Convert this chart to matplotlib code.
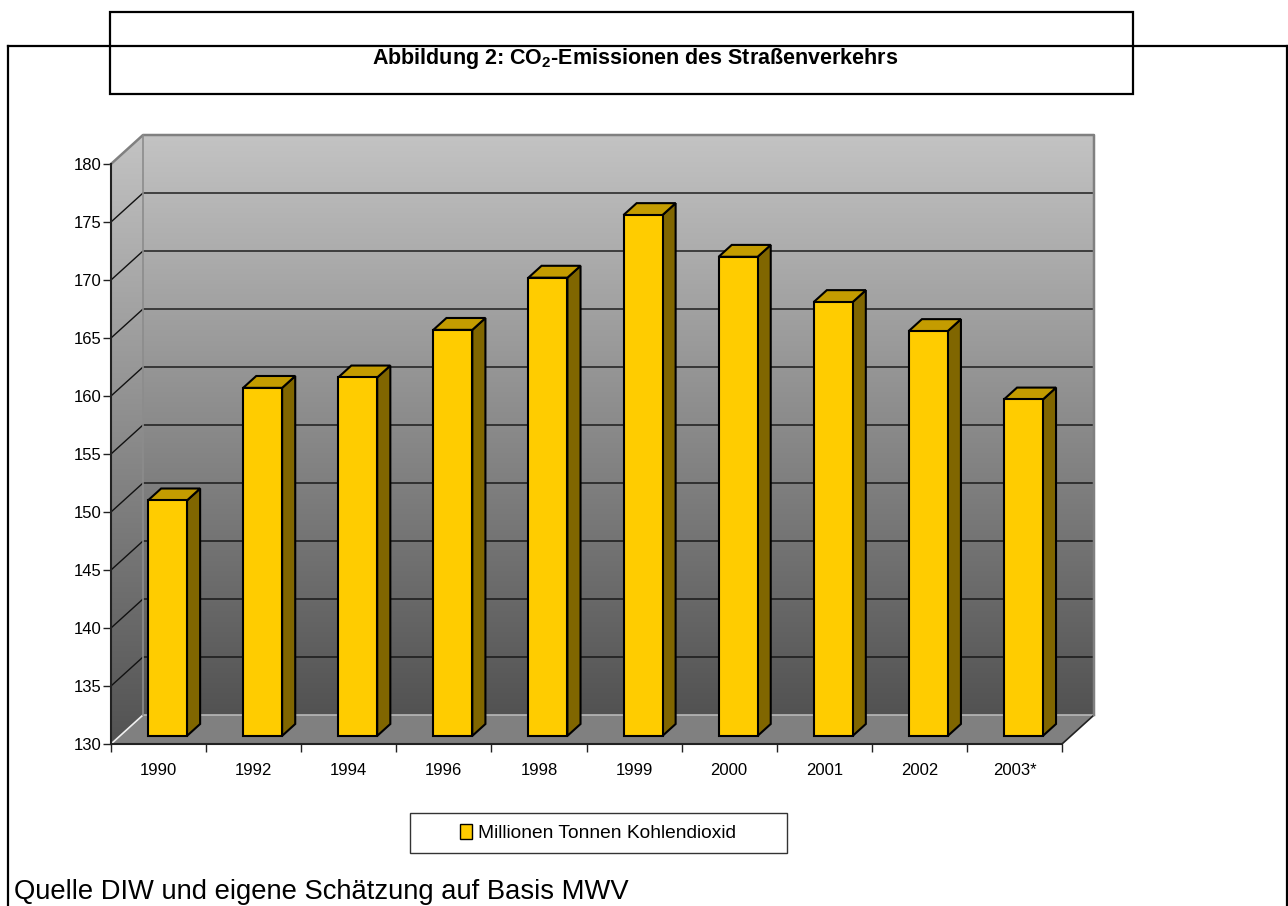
import numpy as np
import matplotlib
matplotlib.use('Agg')
import matplotlib.pyplot as plt
from matplotlib.patches import Polygon, Rectangle
from matplotlib.lines import Line2D
from matplotlib.colors import LinearSegmentedColormap

# Daten
years = ['1990', '1992', '1994', '1996', '1998', '1999', '2000', '2001', '2002', '2003*']
co2 = [150.3, 160.0, 160.9, 165.0, 169.5, 174.9, 171.3, 167.4, 164.9, 159.0]
y_ticks = [130, 135, 140, 145, 150, 155, 160, 165, 170, 175, 180]
title = r'Abbildung 2: CO$_\mathbf{2}$-Emissionen des Straßenverkehrs'
legend_label = 'Millionen Tonnen Kohlendioxid'
source_note = 'Quelle DIW und eigene Schätzung auf Basis MWV'

plt.rcParams['font.family'] = ['Liberation Sans', 'DejaVu Sans']
plt.rcParams['mathtext.fontset'] = 'custom'
plt.rcParams['mathtext.rm'] = 'Liberation Sans'
plt.rcParams['mathtext.bf'] = 'Liberation Sans:bold'

W, H = 1288, 906
fig = plt.figure(figsize=(W / 100, H / 100), dpi=100)


def fx(px):
    return px / W


def fy(py):
    return 1 - py / H


# Achsenbereich (Vorderkante + Tiefe)
n = len(years)
ymin, ymax = y_ticks[0], y_ticks[-1]
ax = fig.add_axes([fx(111), fy(744), fx(1094 - 111), (744 - 135) / H])
px_cat = (1062 - 111) / n
px_unit = (744 - 164) / (ymax - ymin)
DX = 32 / px_cat
DY = 29 / px_unit
ax.set_xlim(0, n + DX)
ax.set_ylim(ymin, ymax + DY)
ax.patch.set_alpha(0)
for s in ax.spines.values():
    s.set_visible(False)

# Wände mit Verlauf
wall_cmap = LinearSegmentedColormap.from_list('wall', ['#525252', '#c3c3c3'])
grad = np.linspace(0, 1, 256).reshape(-1, 1)
ax.imshow(grad, extent=[DX, n + DX, ymin + DY, ymax + DY], origin='lower',
          cmap=wall_cmap, aspect='auto', zorder=0)
side = Polygon([(0, ymin), (DX, ymin + DY), (DX, ymax + DY), (0, ymax)],
               closed=True, facecolor='none', edgecolor='none')
ax.add_patch(side)
im = ax.imshow(grad, extent=[0, DX, ymin, ymax + DY], origin='lower',
               cmap=wall_cmap, aspect='auto', zorder=0)
im.set_clip_path(side)

# Boden
floor = Polygon([(0, ymin), (n, ymin), (n + DX, ymin + DY), (DX, ymin + DY)],
                closed=True, facecolor='#808080', edgecolor='none', zorder=1)
ax.add_patch(floor)
ax.plot([0, DX], [ymin, ymin + DY], color='#f0f0f0', lw=1.2, zorder=2, clip_on=False)
ax.plot([DX, n + DX], [ymin + DY, ymin + DY], color='#b8b8b8', lw=1.2, zorder=2, clip_on=False)
ax.plot([n, n + DX], [ymin, ymin + DY], color='#222222', lw=1.2, zorder=2, clip_on=False)

# Gitterlinien
for v in y_ticks[1:-1]:
    ax.plot([0, DX, n + DX], [v, v + DY, v + DY], color='#111111', lw=1, zorder=2,
            clip_on=False)
# Umrandung der Wände
ax.plot([0, DX, n + DX, n + DX], [ymax, ymax + DY, ymax + DY, ymin + DY],
        color='#808080', lw=1.8, zorder=2, clip_on=False)
ax.plot([DX, DX], [ymin + DY, ymax + DY], color='#8c8c8c', lw=1.2, zorder=2, clip_on=False)

# Achsenlinien vorne
ax.plot([0, 0], [ymin, ymax], color='#222222', lw=1.5, zorder=3, clip_on=False)
ax.plot([0, n], [ymin, ymin], color='#222222', lw=1.5, zorder=3, clip_on=False)

# 3D-Balken
d0, bd, bw = 0.28, 0.41, 0.41
for i, v in enumerate(co2):
    xl = i + 0.295 + d0 * DX
    yb = ymin + d0 * DY
    top = yb + (v - ymin)
    ox, oy = bd * DX, bd * DY
    ax.add_patch(Polygon([(xl + bw, yb), (xl + bw + ox, yb + oy), (xl + bw + ox, top + oy),
                          (xl + bw, top)], closed=True, facecolor='#806600',
                         edgecolor='black', lw=1.5, zorder=4, joinstyle='miter'))
    ax.add_patch(Polygon([(xl, top), (xl + bw, top), (xl + bw + ox, top + oy),
                          (xl + ox, top + oy)], closed=True, facecolor='#c49c00',
                         edgecolor='black', lw=1.5, zorder=4, joinstyle='miter'))
    ax.add_patch(Rectangle((xl, yb), bw, v - ymin, facecolor='#ffcc00',
                           edgecolor='black', lw=1.5, zorder=5, joinstyle='miter'))

# Ticks
ax.set_yticks(y_ticks)
ax.tick_params(axis='y', length=5.5, width=1, pad=1.5, labelsize=12, color='#222222')
ax.set_xticks(np.arange(n + 1))
ax.set_xticklabels([])
ax.set_xticks(np.arange(n) + 0.5, minor=True)
ax.set_xticklabels(years, minor=True)
ax.tick_params(axis='x', which='major', length=6, width=1, color='#222222')
ax.tick_params(axis='x', which='minor', length=0, pad=13.5, labelsize=12)

# Rahmen der Seite
fig.add_artist(Line2D([fx(8), 1], [fy(46), fy(46)], color='black', lw=1.6))
fig.add_artist(Line2D([fx(8), fx(8)], [0, fy(46)], color='black', lw=1.6))
fig.add_artist(Line2D([fx(1287), fx(1287)], [0, fy(46)], color='black', lw=1.6))
fig.add_artist(Rectangle((fx(110), fy(94)), fx(1133 - 110), (94 - 12) / H,
                         transform=fig.transFigure, fill=False, edgecolor='black', lw=1.6))
fig.text(fx(635), fy(64), title, ha='center', va='baseline', fontsize=15.5,
         fontweight='bold')

# Legende
fig.add_artist(Rectangle((fx(410), fy(853)), fx(787 - 410), (853 - 813) / H,
                         transform=fig.transFigure, fill=False, edgecolor='#333333', lw=1))
handle = Rectangle((0, 0), 1, 1, facecolor='#ffcc00', edgecolor='black', lw=1)
fig.legend([handle], [legend_label], loc='center', bbox_to_anchor=(fx(598), fy(833)),
           frameon=False, fontsize=13.8, handlelength=0.6, handleheight=0.8,
           handletextpad=0.3)

# Quelle
fig.text(fx(14), fy(899), source_note, ha='left', va='baseline', fontsize=19.7)

fig.savefig('out.png', dpi=100)
